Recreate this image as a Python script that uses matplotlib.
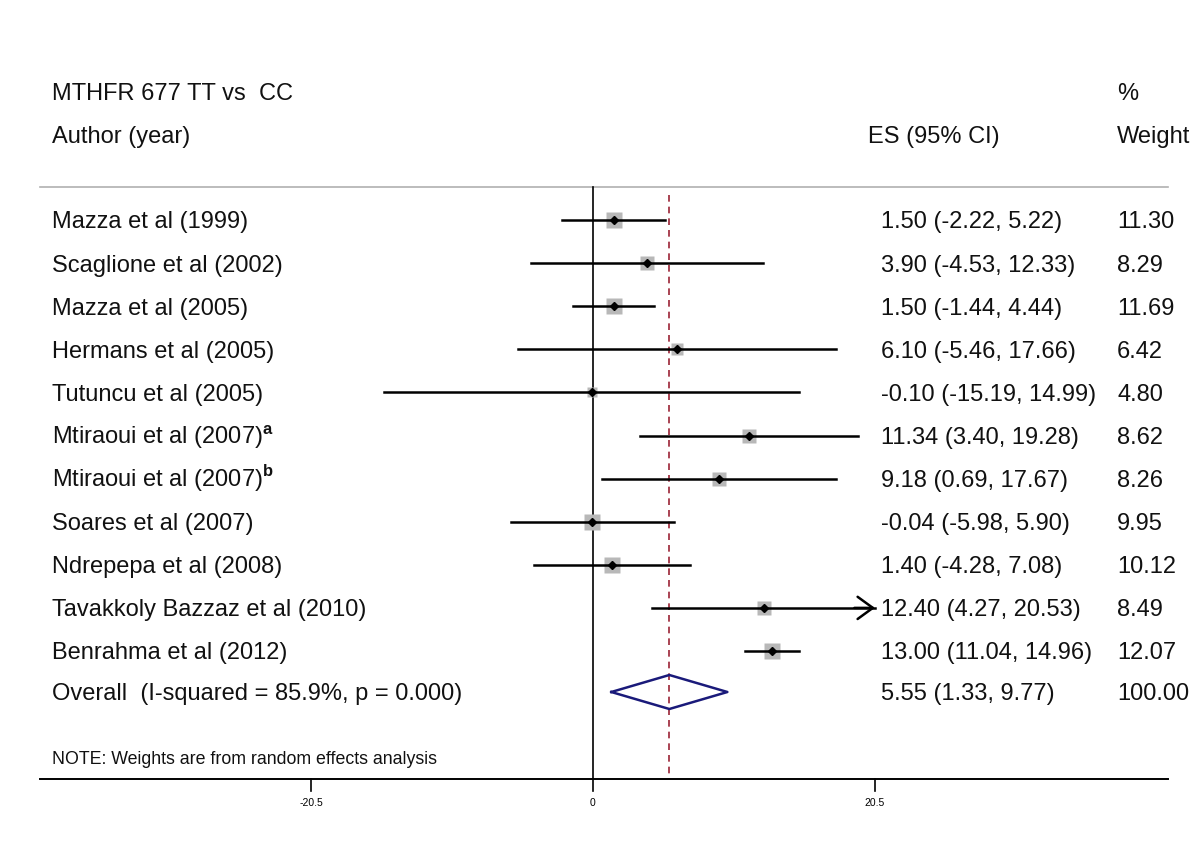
import numpy as np
import matplotlib
matplotlib.use('Agg')
import matplotlib.pyplot as plt

plt.rcParams['font.family'] = ['Liberation Sans', 'DejaVu Sans']
plt.rcParams['mathtext.fontset'] = 'custom'
plt.rcParams['mathtext.rm'] = 'Liberation Sans'
plt.rcParams['mathtext.bf'] = 'Liberation Sans:bold'

# study data
studies = ['Mazza et al (1999)', 'Scaglione et al (2002)', 'Mazza et al (2005)',
           'Hermans et al (2005)', 'Tutuncu et al (2005)',
           r'Mtiraoui et al (2007)$^\mathbf{a}$', r'Mtiraoui et al (2007)$^\mathbf{b}$',
           'Soares et al (2007)', 'Ndrepepa et al (2008)',
           'Tavakkoly Bazzaz et al (2010)', 'Benrahma et al (2012)']
es = [1.50, 3.90, 1.50, 6.10, -0.10, 11.34, 9.18, -0.04, 1.40, 12.40, 13.00]
lo = [-2.22, -4.53, -1.44, -5.46, -15.19, 3.40, 0.69, -5.98, -4.28, 4.27, 11.04]
hi = [5.22, 12.33, 4.44, 17.66, 14.99, 19.28, 17.67, 5.90, 7.08, 20.53, 14.96]
weights = [11.30, 8.29, 11.69, 6.42, 4.80, 8.62, 8.26, 9.95, 10.12, 8.49, 12.07]

overall_label = 'Overall  (I-squared = 85.9%, p = 0.000)'
overall_es, overall_lo, overall_hi, overall_w = 5.55, 1.33, 9.77, 100.00
xticks = [-20.5, 0, 20.5]
xrange_max = 20.5

W, H = 1200, 864
fig = plt.figure(figsize=(W / 100, H / 100), dpi=100)
ax = fig.add_axes([0, 0, 1, 1])
ax.axis('off')

# x in effect-size units, y in pixel rows
scale = (875 - 593) / 20.5
x0 = 593
ax.set_xlim(-x0 / scale, (W - x0) / scale)
ax.set_ylim(H, 0)


def px(v):
    return x0 + v * scale


def px_to_x(p):
    return (p - x0) / scale


row_y = [220 + i * 43.1 for i in range(len(studies))]
overall_y = 692

fs = 17


def label(xp, yp, s, size=fs, **kw):
    # yp is the visual middle of capitals; put baseline below it
    base = yp + size * 0.716 * (100 / 72) / 2
    fig.text(xp / W, 1 - base / H, s, fontsize=size, va='baseline', ha='left',
             color='#111111', **kw)


# header
label(52, 92, 'MTHFR 677 TT vs  CC')
label(52, 135, 'Author (year)')
label(868, 135, 'ES (95% CI)')
label(1117, 92, '%')
label(1117, 135, 'Weight')

ax.plot([px_to_x(40), px_to_x(1168)], [187, 187], color='#b0b0b0', lw=1.2)

# reference lines
ax.plot([0, 0], [187, 779], color='black', lw=1.2)
ax.plot([overall_es, overall_es], [195, 779], color='#9b2335', lw=1.2,
        dashes=(4, 3))

for i, name in enumerate(studies):
    y = row_y[i]
    side = 16 * np.sqrt(weights[i] / 11.30)
    ax.plot(es[i], y, marker='s', ms=side * 0.72, color='#b8b8b8', mec='none',
            zorder=2)
    if hi[i] > xrange_max:
        ax.plot([lo[i], xrange_max], [y, y], color='black', lw=1.8, zorder=3)
        ax.annotate('', xy=(xrange_max, y), xytext=(xrange_max - 1.5, y),
                    arrowprops=dict(arrowstyle='->,head_length=1.1,head_width=0.8',
                                    color='black', lw=1.8, shrinkA=0, shrinkB=0),
                    zorder=3)
    else:
        ax.plot([lo[i], hi[i]], [y, y], color='black', lw=1.8, zorder=3)
    ax.plot(es[i], y, marker='D', ms=3.6, color='black', zorder=4)
    label(52, y, name)
    label(881, y, f'{es[i]:.2f} ({lo[i]:.2f}, {hi[i]:.2f})')
    label(1117, y, f'{weights[i]:.2f}')

# overall diamond
dh = 17
ax.plot([overall_lo, overall_es, overall_hi, overall_es, overall_lo],
        [overall_y, overall_y - dh, overall_y, overall_y + dh, overall_y],
        color='#1a1a7a', lw=1.8, zorder=3)
label(52, overall_y, overall_label)
label(881, overall_y, f'{overall_es:.2f} ({overall_lo:.2f}, {overall_hi:.2f})')
label(1117, overall_y, f'{overall_w:.2f}')

label(52, 758, 'NOTE: Weights are from random effects analysis', size=12.8)

# x axis
ax.plot([px_to_x(40), px_to_x(1168)], [779, 779], color='black', lw=1.4)
for t in xticks:
    ax.plot([t, t], [779, 791], color='black', lw=1.2)
    fig.text(px(t) / W, 1 - 803 / H, f'{t:g}', fontsize=7.5, ha='center', va='center')

fig.savefig('out.png', dpi=100, facecolor='white')
